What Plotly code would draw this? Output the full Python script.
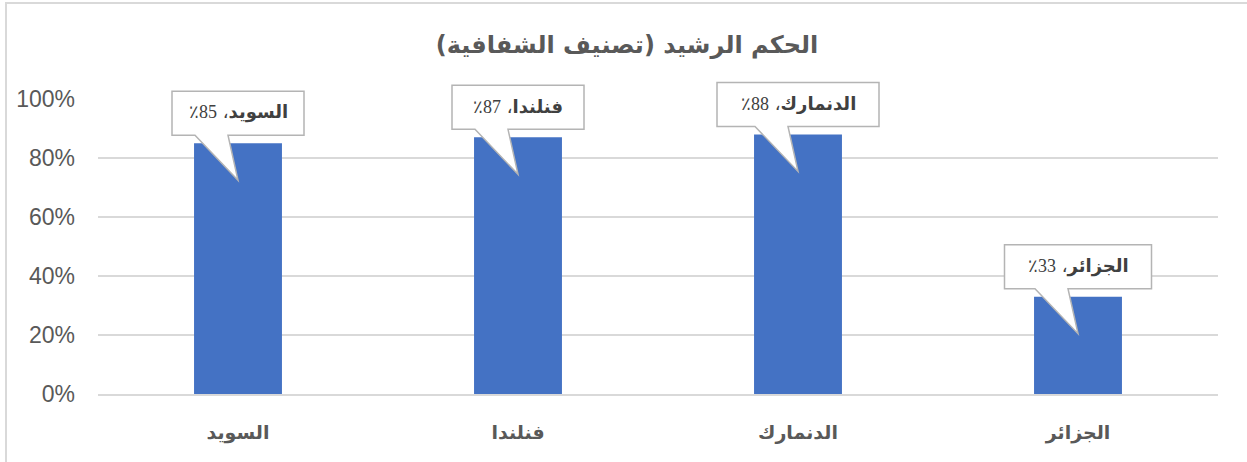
import plotly.graph_objects as go

categories = ["السويد", "فنلندا", "الدنمارك", "الجزائر"]
values = [0.85, 0.87, 0.88, 0.33]
title_text = "الحكم الرشيد (تصنيف الشفافية)"
y_ticks = [0, 0.2, 0.4, 0.6, 0.8, 1.0]

W, H = 1247, 462
ML, MR, MT, MB = 98, 29, 99, 68
PW, PH = W - ML - MR, H - MT - MB
Y_MIN, Y_MAX = 0, 1

AR_FONT = "DejaVu Sans"
GRID = "#D9D9D9"
TXT = "#595959"

fig = go.Figure()
fig.add_trace(go.Bar(x=categories, y=values, marker=dict(color="#4472C4", line=dict(width=0)),
                     hoverinfo="skip"))

shapes = []
annotations = []
n = len(categories)
for i, (c, v) in enumerate(zip(categories, values)):
    w = 15 * len(c) + 42
    hw = w / 2
    path = (f"M {-hw},52 L {hw},52 L {hw},8 L -10,8 L 0,-37 L -43,8 L {-hw},8 Z")
    shapes.append(dict(type="path", xref="paper", yref="paper", xsizemode="pixel", ysizemode="pixel",
                       xanchor=(i + 0.5) / n, yanchor=(v - Y_MIN) / (Y_MAX - Y_MIN), path=path,
                       fillcolor="white", line=dict(color="#B4B4B4", width=1.5), layer="above"))
    annotations.append(dict(x=i, y=v, xref="x", yref="y", yshift=31, showarrow=False,
                            text=(f"<b>\u200f{c}</b>، "
                                  f"<span style='font-family:Liberation Serif'>{round(v*100)}٪\u200f</span>"),
                            font=dict(family=AR_FONT, size=18, color="#404040"),
                            xanchor="center", yanchor="middle"))

# chart border (outer frame)
shapes.append(dict(type="rect", xref="paper", yref="paper",
                   x0=(6 - ML) / PW, x1=(W + 10 - ML) / PW,
                   y0=(H - MB - (H + 10)) / PH, y1=(H - MB - 3) / PH,
                   line=dict(color=GRID, width=2), fillcolor="rgba(0,0,0,0)", layer="below"))

fig.update_layout(
    width=W, height=H,
    margin=dict(l=ML, r=MR, t=MT, b=MB, autoexpand=False),
    paper_bgcolor="white", plot_bgcolor="white",
    showlegend=False,
    bargap=0.686,
    title=dict(text=f"<b>{title_text}</b>", x=627 / W, xref="container", xanchor="center",
               y=1 - 45 / H, yref="container", yanchor="middle",
               font=dict(family=AR_FONT, size=24, color=TXT)),
    xaxis=dict(showgrid=False, showline=True, linecolor=GRID, linewidth=2,
               ticks="", ticklabelstandoff=20,
               tickfont=dict(family=AR_FONT, size=19, color=TXT),
               tickprefix="<b>", ticksuffix="</b>"),
    yaxis=dict(range=[Y_MIN, Y_MAX], tickvals=y_ticks, tickformat=".0%", showgrid=True,
               gridcolor=GRID, gridwidth=2, zeroline=False, showline=False,
               ticks="", ticklabelstandoff=22,
               tickfont=dict(family="Liberation Sans", size=23, color=TXT)),
    shapes=shapes,
    annotations=annotations,
)

fig.write_html("out.html", config={"displayModeBar": False},
               post_script="document.body.style.margin='0';")
